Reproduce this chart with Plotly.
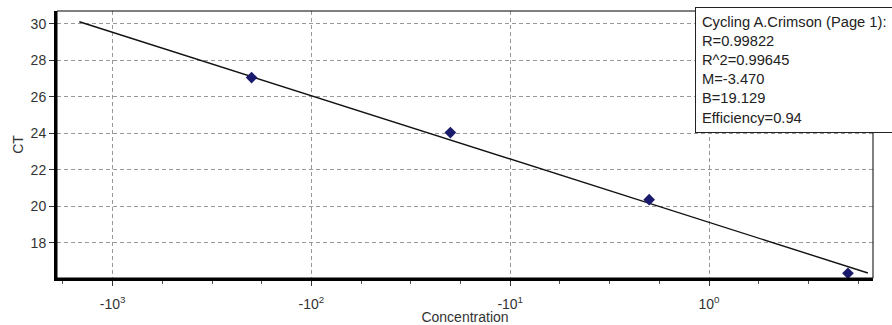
import numpy as np
import plotly.graph_objects as go

# ---- data ----
concentration = [0.005, 0.05, 0.5, 5.0]
ct_values = [27.06, 24.05, 20.37, 16.34]

fit_slope = -3.470
fit_intercept = 19.129
fit_conc_range = [6.8e-4, 6.3]

x_tick_vals = [0.001, 0.01, 0.1, 1.0]
x_tick_text = ["-10<sup>3</sup>", "-10<sup>2</sup>", "-10<sup>1</sup>", "10<sup>0</sup>"]
y_tick_vals = [18, 20, 22, 24, 26, 28, 30]

legend_lines = ["Cycling A.Crimson (Page 1):", "R=0.99822", "R^2=0.99645",
                "M=-3.470", "B=19.129", "Efficiency=0.94"]

# ---- fit line from slope/intercept ----
fit_x = np.logspace(np.log10(fit_conc_range[0]), np.log10(fit_conc_range[1]), 50)
fit_y = fit_slope * np.log10(fit_x) + fit_intercept

FONT = "Liberation Sans, Arial, sans-serif"

fig = go.Figure()
fig.add_trace(go.Scatter(x=fit_x, y=fit_y, mode="lines",
                         line=dict(color="#111111", width=1.4), showlegend=False,
                         hoverinfo="skip"))
fig.add_trace(go.Scatter(x=concentration, y=ct_values, mode="markers",
                         marker=dict(symbol="diamond", size=9, color="#1b1b6e"),
                         showlegend=False))

minor_vals = []
for d in range(-4, 1):
    for f in (0.25, 0.5, 0.75):
        minor_vals.append(10 ** (d + f))

fig.update_layout(
    width=892, height=325,
    margin=dict(l=57, r=19, t=11, b=47, autoexpand=False),
    paper_bgcolor="white", plot_bgcolor="white",
    font=dict(family=FONT, size=14, color="#333333"),
    xaxis=dict(
        type="log", range=[-3.28, 0.825], automargin=False,
        tickvals=x_tick_vals, ticktext=x_tick_text,
        ticks="outside", ticklen=5, tickcolor="#333333",
        ticklabelstandoff=6,
        showgrid=True, gridcolor="#999999", griddash="4px,3px", gridwidth=1,
        showline=True, linecolor="black", linewidth=3, zeroline=False,
        minor=dict(tickvals=minor_vals, ticks="outside", ticklen=3,
                   tickcolor="#555555", showgrid=False),
        title=dict(text="Concentration", font=dict(size=14, color="#333333"), standoff=4),
        tickfont=dict(size=14, color="#333333"),
    ),
    yaxis=dict(
        range=[16.08, 30.71], automargin=False,
        tickvals=y_tick_vals,
        ticks="outside", ticklen=5, tickcolor="#333333",
        showgrid=True, gridcolor="#999999", griddash="4px,3px", gridwidth=1,
        showline=True, linecolor="black", linewidth=3, zeroline=False,
        title=dict(text="CT", font=dict(size=14, color="#333333"), standoff=4),
        tickfont=dict(size=14, color="#333333"),
    ),
    shapes=[dict(type="rect", xref="paper", yref="paper", x0=0, x1=1, y0=0, y1=1,
                 line=dict(color="black", width=1), layer="above")],
    annotations=[dict(
        xref="paper", yref="paper", x=0.782, y=1.015,
        xanchor="left", yanchor="top", align="left",
        text="<br>".join(legend_lines), showarrow=False,
        font=dict(family=FONT, size=14.7, color="#222222"),
        bgcolor="white", bordercolor="#222222", borderwidth=1, borderpad=6,
        width=210,
    )],
)

fig.write_html("out.html", config={"displayModeBar": False},
               post_script="document.body.style.margin='0';document.body.style.overflow='hidden';")
